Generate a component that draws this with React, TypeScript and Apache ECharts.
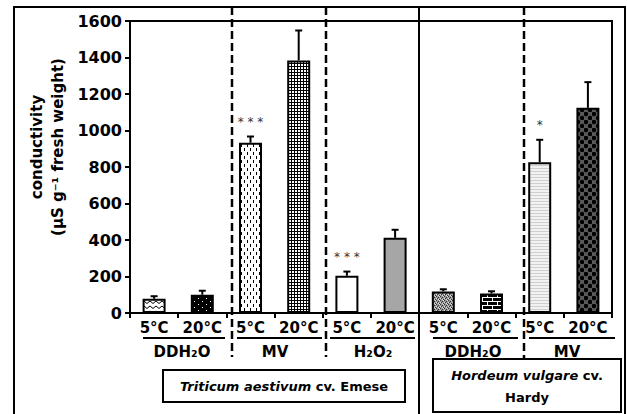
import React, { useEffect, useRef } from 'react';
import * as echarts from 'echarts';

// ---- data ----
const categories = ['5°C', '20°C', '5°C', '20°C', '5°C', '20°C', '5°C', '20°C', '5°C', '20°C'];
const means = [78, 100, 933, 1384, 204, 412, 118, 107, 826, 1124];
const errors = [14, 22, 34, 164, 23, 44, 12, 12, 123, 141];
const stars = ['', '', '***', '', '***', '', '', '', '*', ''];
const groupLabels = ['DDH₂O', 'MV', 'H₂O₂', 'DDH₂O', 'MV'];
const yMin = 0;
const yMax = 1600;
const yStep = 200;
const yTitle1 = 'conductivity';
const yTitle2 = '(µS g⁻¹ fresh weight)';

// ---- layout (pixels) ----
const FONT = '"DejaVu Sans", "Noto Sans", sans-serif';
const underlines = [[143, 225], [237, 322], [330, 415], [433, 518], [529, 615]];
const groupLabelX = [182, 275, 373, 473, 567];
const dashedX = [232, 326, 524];
const dashedBottom = [357, 357, 359];
const solidX = 419;

type Ctx = CanvasRenderingContext2D;
function tile(w: number, h: number, draw: (c: Ctx) => void): any {
  const cv = document.createElement('canvas');
  cv.width = w;
  cv.height = h;
  const c = cv.getContext('2d') as Ctx;
  draw(c);
  return { image: cv.toDataURL(), repeat: 'repeat', imageWidth: w, imageHeight: h };
}

function makePatterns(): any[] {
  const zig = tile(6, 5, (c) => {
    c.fillStyle = '#fff'; c.fillRect(0, 0, 6, 5);
    c.strokeStyle = '#000'; c.lineWidth = 1;
    c.beginPath(); c.moveTo(0, 1); c.lineTo(3, 3.5); c.lineTo(6, 1); c.stroke();
  });
  const blackDots = tile(8, 6, (c) => {
    c.fillStyle = '#000'; c.fillRect(0, 0, 8, 6);
    c.fillStyle = '#fff'; c.fillRect(2, 1, 1, 1); c.fillRect(6, 4, 1, 1);
  });
  const vDash = tile(6, 8, (c) => {
    c.fillStyle = '#fff'; c.fillRect(0, 0, 6, 8);
    c.fillStyle = '#000'; c.fillRect(1, 0, 1, 3); c.fillRect(4, 4, 1, 3);
  });
  const grid = tile(3, 3, (c) => {
    c.fillStyle = '#000'; c.fillRect(0, 0, 3, 3);
    c.fillStyle = '#fff'; c.fillRect(1, 1, 2, 2);
  });
  const speckle = tile(4, 4, (c) => {
    c.fillStyle = '#9a9a9a'; c.fillRect(0, 0, 4, 4);
    c.fillStyle = '#333';
    c.fillRect(0, 0, 1, 1); c.fillRect(2, 1, 1, 1); c.fillRect(1, 2, 1, 1); c.fillRect(3, 3, 1, 1);
    c.fillStyle = '#ddd';
    c.fillRect(2, 3, 1, 1); c.fillRect(0, 2, 1, 1); c.fillRect(3, 0, 1, 1);
  });
  const bricks = tile(10, 8, (c) => {
    c.fillStyle = '#000'; c.fillRect(0, 0, 10, 8);
    c.fillStyle = '#fff';
    c.fillRect(0, 1, 10, 1); c.fillRect(0, 5, 10, 1);
    c.fillRect(2, 1, 1, 4); c.fillRect(7, 5, 1, 3); c.fillRect(7, 0, 1, 1);
  });
  const hLines = tile(4, 3, (c) => {
    c.fillStyle = '#f2f2f2'; c.fillRect(0, 0, 4, 3);
    c.fillStyle = '#cfcfcf'; c.fillRect(0, 0, 4, 1);
  });
  const darkDots = tile(8, 8, (c) => {
    c.fillStyle = '#5a5a5a'; c.fillRect(0, 0, 8, 8);
    c.fillStyle = '#000';
    c.beginPath(); c.arc(2, 2, 2.2, 0, Math.PI * 2); c.fill();
    c.beginPath(); c.arc(6, 6, 2.2, 0, Math.PI * 2); c.fill();
  });
  return [zig, blackDots, vDash, grid, '#ffffff', '#a6a6a6', speckle, bricks, hLines, darkDots];
}

export default function App() {
  const ref = useRef<HTMLDivElement>(null);

  useEffect(() => {
    document.body.style.margin = '0';
    const chart = echarts.init(ref.current as HTMLDivElement, undefined, { renderer: 'svg' });
    const patterns = makePatterns();

    const labelStyle = { fontFamily: FONT, fontWeight: 'bold' as const, color: '#000' };

    const graphic: any[] = [];
    // outer frame
    graphic.push({
      type: 'polyline', silent: true, z: 10,
      shape: { points: [[14, 416], [14, 7], [625, 7], [625, 416]] },
      style: { stroke: '#000', lineWidth: 2, fill: 'none' },
    });
    dashedX.forEach((x, k) => {
      graphic.push({
        type: 'line', silent: true, z: 10,
        shape: { x1: x, y1: 7, x2: x, y2: dashedBottom[k] },
        style: { stroke: '#000', lineWidth: 2.5, lineDash: [8, 4] },
      });
    });
    graphic.push({
      type: 'line', silent: true, z: 10,
      shape: { x1: solidX, y1: 7, x2: solidX, y2: 416 },
      style: { stroke: '#000', lineWidth: 2 },
    });
    underlines.forEach(([a, b]) => {
      graphic.push({
        type: 'line', silent: true, z: 10,
        shape: { x1: a, y1: 338, x2: b, y2: 338 },
        style: { stroke: '#000', lineWidth: 2 },
      });
    });
    groupLabels.forEach((t, k) => {
      graphic.push({
        type: 'text', silent: true, z: 10, x: groupLabelX[k], y: 352,
        style: {
          text: t, fill: '#000', font: `bold 15px ${FONT}`,
          textAlign: 'center', textVerticalAlign: 'middle',
        },
      });
    });
    // y axis title
    graphic.push({
      type: 'text', silent: true, z: 10, x: 37, y: 147, rotation: Math.PI / 2,
      style: { text: yTitle1, fill: '#000', font: `bold 15px ${FONT}`, textAlign: 'center', textVerticalAlign: 'middle' },
    });
    graphic.push({
      type: 'text', silent: true, z: 10, x: 58, y: 147, rotation: Math.PI / 2,
      style: { text: yTitle2, fill: '#000', font: `bold 15px ${FONT}`, textAlign: 'center', textVerticalAlign: 'middle' },
    });
    // species boxes
    graphic.push({
      type: 'rect', silent: true, z: 10,
      shape: { x: 163, y: 370, width: 242, height: 32 },
      style: { stroke: '#000', lineWidth: 2, fill: '#fff' },
    });
    graphic.push({
      type: 'text', silent: true, z: 11, x: 284, y: 386,
      style: {
        text: '{i|Triticum aestivum} cv. Emese', fill: '#000', font: `bold 13px ${FONT}`,
        textAlign: 'center', textVerticalAlign: 'middle',
        rich: { i: { fontStyle: 'italic', fontWeight: 'bold', fontSize: 13, fontFamily: FONT, fill: '#000' } },
      },
    });
    graphic.push({
      type: 'rect', silent: true, z: 10,
      shape: { x: 433, y: 359, width: 188, height: 53 },
      style: { stroke: '#000', lineWidth: 2, fill: '#fff' },
    });
    graphic.push({
      type: 'text', silent: true, z: 11, x: 527, y: 375,
      style: {
        text: '{i|Hordeum vulgare} cv.', fill: '#000', font: `bold 13px ${FONT}`,
        textAlign: 'center', textVerticalAlign: 'middle',
        rich: { i: { fontStyle: 'italic', fontWeight: 'bold', fontSize: 13, fontFamily: FONT, fill: '#000' } },
      },
    });
    graphic.push({
      type: 'text', silent: true, z: 11, x: 527, y: 397,
      style: { text: 'Hardy', fill: '#000', font: `bold 13px ${FONT}`, textAlign: 'center', textVerticalAlign: 'middle' },
    });

    chart.setOption({
      animation: false,
      backgroundColor: '#fff',
      grid: {
        left: 130, top: 21, right: 15, bottom: 101,
        show: true, borderColor: '#000', borderWidth: 2, backgroundColor: 'transparent',
      },
      xAxis: {
        type: 'category',
        data: categories,
        boundaryGap: true,
        axisLine: { lineStyle: { color: '#000', width: 2 } },
        axisTick: { show: true, interval: 0, length: 5, lineStyle: { color: '#000', width: 2 } },
        axisLabel: { ...labelStyle, fontSize: 15, margin: 7, interval: 0 },
        splitLine: { show: false },
      },
      yAxis: {
        type: 'value',
        min: yMin, max: yMax, interval: yStep,
        axisLine: { show: true, lineStyle: { color: '#000', width: 2 } },
        axisTick: { show: true, length: 5, lineStyle: { color: '#000', width: 2 } },
        axisLabel: { ...labelStyle, fontSize: 16, margin: 8, formatter: (v: number) => String(v) },
        splitLine: { show: false },
      },
      series: [
        {
          type: 'bar',
          barWidth: 23,
          data: means.map((v, i) => ({
            value: v,
            itemStyle: { color: patterns[i], borderColor: '#000', borderWidth: 2 },
          })),
          z: 2,
        },
        {
          type: 'custom',
          z: 3,
          encode: { x: 0, y: 1 },
          data: means.map((v, i) => [i, v, errors[i]]),
          renderItem: (params: any, api: any) => {
            const i = api.value(0);
            const m = api.value(1);
            const e = api.value(2);
            const base = api.coord([i, m]);
            const top = api.coord([i, m + e]);
            const children: any[] = [
              { type: 'line', shape: { x1: base[0], y1: base[1], x2: top[0], y2: top[1] }, style: { stroke: '#000', lineWidth: 2 } },
              { type: 'line', shape: { x1: top[0] - 3.5, y1: top[1], x2: top[0] + 3.5, y2: top[1] }, style: { stroke: '#000', lineWidth: 2 } },
            ];
            const s = stars[params.dataIndex];
            if (s) {
              children.push({
                type: 'text', x: top[0], y: top[1] - 15,
                style: {
                  text: s.split('').join(' '), fill: '#333333', font: `12px ${FONT}`,
                  textAlign: 'center', textVerticalAlign: 'middle',
                },
              });
            }
            return { type: 'group', children };
          },
        },
      ],
      graphic,
    });

    return () => chart.dispose();
  }, []);

  return (
    <div
      ref={ref}
      style={{ position: 'absolute', left: 0, top: 0, width: 627, height: 414, background: '#fff' }}
    />
  );
}
